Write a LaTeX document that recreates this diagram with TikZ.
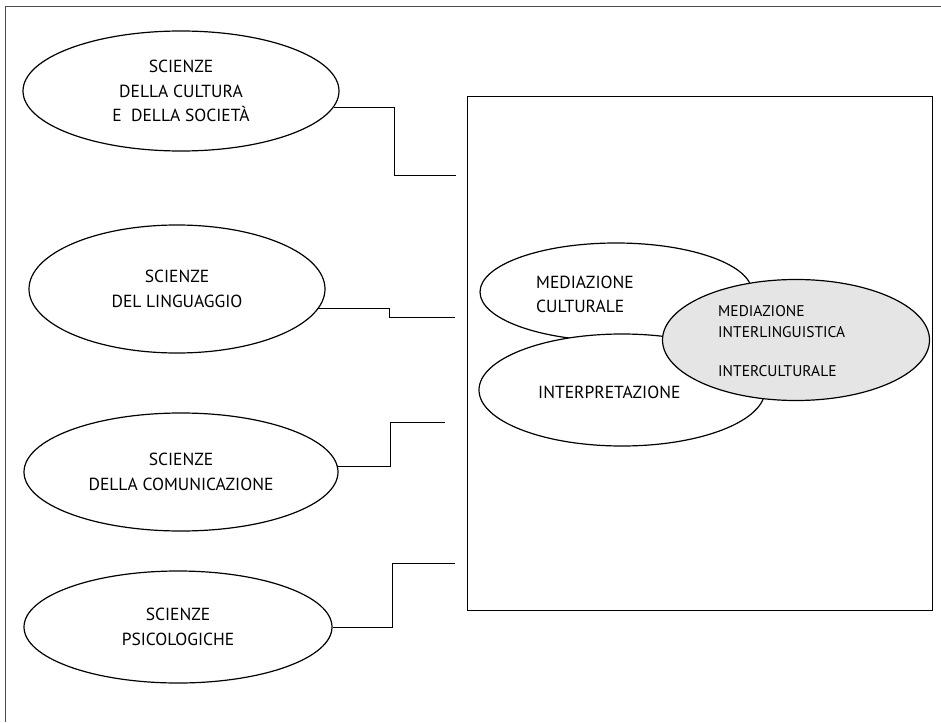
\documentclass[tikz,border=0pt]{standalone}
\usepackage{fontspec}
\setmainfont{PT Sans}
\usetikzlibrary{shapes.geometric, positioning}

\begin{document}
\begin{tikzpicture}[
  x=1pt, y=-1pt,
  font=\fontsize{17.5}{24.5}\selectfont,
  field/.style={draw, ellipse, line width=1.2pt, inner sep=0pt, align=center},
  inner/.style={draw, ellipse, line width=1.2pt, inner sep=0pt, fill=white},
  lbl/.style={inner sep=0pt, align=left, anchor=west},
  link/.style={line width=0.9pt},
  frame/.style={draw=black!70, line width=0.8pt}
]
\useasboundingbox (0,0) rectangle (941,722);
\draw[frame] (5,722) -- (5,6) -- (941,6);

% sciences on the left
\node[field, minimum width=316pt, minimum height=120pt] (cult) at (181,91)
  {SCIENZE\\DELLA CULTURA\\E\ \ DELLA SOCIETÀ};
\node[field, minimum width=296pt, minimum height=128pt] (ling) at (177,289)
  {SCIENZE\\DEL LINGUAGGIO};
\node[field, minimum width=314pt, minimum height=118pt] (comm) at (181,472)
  {SCIENZE\\DELLA COMUNICAZIONE};
\node[field, minimum width=308pt, minimum height=112pt] (psic) at (178,627)
  {SCIENZE\\PSICOLOGICHE};

% mediation box
\node[draw, line width=1pt, minimum width=465pt, minimum height=513pt, inner sep=0pt] (box) at (699.5,353.5) {};

\node[inner, minimum width=272pt, minimum height=98pt] (medcult) at (616,292) {};
\node[lbl] (medcultlbl) at (536,294.5) {MEDIAZIONE\\CULTURALE};
\node[inner, minimum width=286pt, minimum height=112pt] (interp) at (622,390) {};
\node[lbl] (interplbl) at (538,392) {INTERPRETAZIONE};
\node[inner, fill=black!10, minimum width=267pt, minimum height=121pt] (medint) at (796,340) {};
\node[lbl, font=\fontsize{15.5}{21}\selectfont] (medintlbl) at (718,341)
  {MEDIAZIONE\\INTERLINGUISTICA\\[18pt]INTERCULTURALE};

% connectors
\coordinate (in1) at (456,175);
\coordinate (in2) at (455,317);
\coordinate (in3) at (445,422);
\coordinate (in4) at (455,563);

\draw[link] (cult.-6) -| ([xshift=-62pt]in1.center) -- (in1);
\draw[link] (ling.-8) -| ([xshift=-66pt]in2.center) -- (in2);
\draw[link] (comm.2) -| ([xshift=-55pt]in3.center) -- (in3);
\draw[link] (psic.east) -| ([xshift=-63pt]in4.center) -- (in4);

\end{tikzpicture}
\end{document}
